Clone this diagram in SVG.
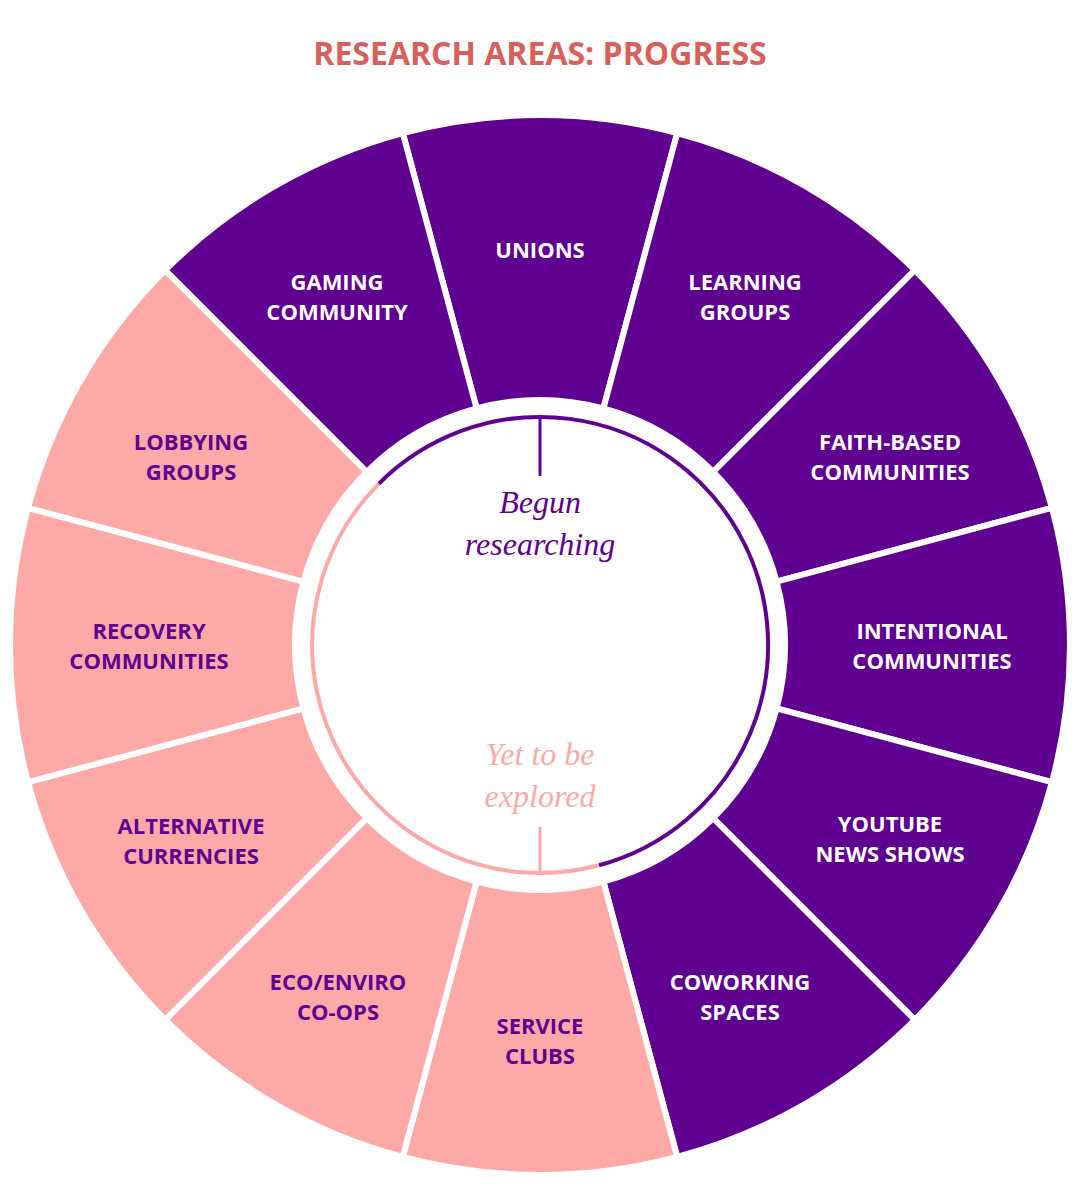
<svg xmlns="http://www.w3.org/2000/svg" width="1080" height="1186" viewBox="0 0 1080 1186">
<style>
.p{fill:#5f0090;stroke:#fff;stroke-width:6}
.k{fill:#fca9a8;stroke:#fff;stroke-width:6}
.t{font-family:"Open Sans","Liberation Sans",sans-serif;font-weight:bold;font-size:22px;text-anchor:middle}
.w{fill:#fff}.v{fill:#5f0090}
.i{font-family:"Liberation Serif",serif;font-style:italic;font-size:32px;text-anchor:middle}
</style>
<rect width="1080" height="1186" fill="#fff"/>
<text x="540" y="65" font-family="'Open Sans','Liberation Sans',sans-serif" font-weight="bold" font-size="32" fill="#d9605a" text-anchor="middle">RESEARCH AREAS: PROGRESS</text>
<g id="unions"><path class="p" d="M402.8,133.1A530,530 0 0 1 677.2,133.1L603.4,408.4A245,245 0 0 0 476.6,408.4Z"/><text class="t w" x="540" y="258">UNIONS</text></g>
<g id="learning"><path class="p" d="M677.2,133.1A530,530 0 0 1 914.8,270.2L713.2,471.8A245,245 0 0 0 603.4,408.4Z"/><text class="t w" x="745" y="290">LEARNING</text><text class="t w" x="745" y="320">GROUPS</text></g>
<g id="faith"><path class="p" d="M914.8,270.2A530,530 0 0 1 1051.9,507.8L776.6,581.6A245,245 0 0 0 713.2,471.8Z"/><text class="t w" x="890" y="450">FAITH-BASED</text><text class="t w" x="890" y="480">COMMUNITIES</text></g>
<g id="intentional"><path class="p" d="M1051.9,507.8A530,530 0 0 1 1051.9,782.2L776.6,708.4A245,245 0 0 0 776.6,581.6Z"/><text class="t w" x="932" y="639">INTENTIONAL</text><text class="t w" x="932" y="669">COMMUNITIES</text></g>
<g id="youtube"><path class="p" d="M1051.9,782.2A530,530 0 0 1 914.8,1019.8L713.2,818.2A245,245 0 0 0 776.6,708.4Z"/><text class="t w" x="890" y="832">YOUTUBE</text><text class="t w" x="890" y="862">NEWS SHOWS</text></g>
<g id="coworking"><path class="p" d="M914.8,1019.8A530,530 0 0 1 677.2,1156.9L603.4,881.6A245,245 0 0 0 713.2,818.2Z"/><text class="t w" x="740" y="990">COWORKING</text><text class="t w" x="740" y="1020">SPACES</text></g>
<g id="service"><path class="k" d="M677.2,1156.9A530,530 0 0 1 402.8,1156.9L476.6,881.6A245,245 0 0 0 603.4,881.6Z"/><text class="t v" x="540" y="1034">SERVICE</text><text class="t v" x="540" y="1064">CLUBS</text></g>
<g id="eco"><path class="k" d="M402.8,1156.9A530,530 0 0 1 165.2,1019.8L366.8,818.2A245,245 0 0 0 476.6,881.6Z"/><text class="t v" x="338" y="990">ECO/ENVIRO</text><text class="t v" x="338" y="1020">CO-OPS</text></g>
<g id="alternative"><path class="k" d="M165.2,1019.8A530,530 0 0 1 28.1,782.2L303.4,708.4A245,245 0 0 0 366.8,818.2Z"/><text class="t v" x="191" y="834">ALTERNATIVE</text><text class="t v" x="191" y="864">CURRENCIES</text></g>
<g id="recovery"><path class="k" d="M28.1,782.2A530,530 0 0 1 28.1,507.8L303.4,581.6A245,245 0 0 0 303.4,708.4Z"/><text class="t v" x="149" y="639">RECOVERY</text><text class="t v" x="149" y="669">COMMUNITIES</text></g>
<g id="lobbying"><path class="k" d="M28.1,507.8A530,530 0 0 1 165.2,270.2L366.8,471.8A245,245 0 0 0 303.4,581.6Z"/><text class="t v" x="191" y="450">LOBBYING</text><text class="t v" x="191" y="480">GROUPS</text></g>
<g id="gaming"><path class="p" d="M165.2,270.2A530,530 0 0 1 402.8,133.1L476.6,408.4A245,245 0 0 0 366.8,471.8Z"/><text class="t w" x="337" y="290">GAMING</text><text class="t w" x="337" y="320">COMMUNITY</text></g>
<g id="center">
<circle cx="540" cy="645" r="240" fill="#fff"/>
<path d="M378.8,483.8A228,228 0 1 1 599,865.2" fill="none" stroke="#5f0090" stroke-width="4"/>
<path d="M599,865.2A228,228 0 0 1 378.8,483.8" fill="none" stroke="#fca9a8" stroke-width="4"/>
<line x1="540" y1="418" x2="540" y2="476" stroke="#5f0090" stroke-width="3"/>
<line x1="540" y1="827" x2="540" y2="873" stroke="#fca9a8" stroke-width="3"/>
<text class="i" x="540" y="513" fill="#5f0090">Begun</text>
<text class="i" x="540" y="555" fill="#5f0090">researching</text>
<text class="i" x="540" y="765" fill="#fca9a8">Yet to be</text>
<text class="i" x="540" y="807" fill="#fca9a8">explored</text>
</g>
</svg>
